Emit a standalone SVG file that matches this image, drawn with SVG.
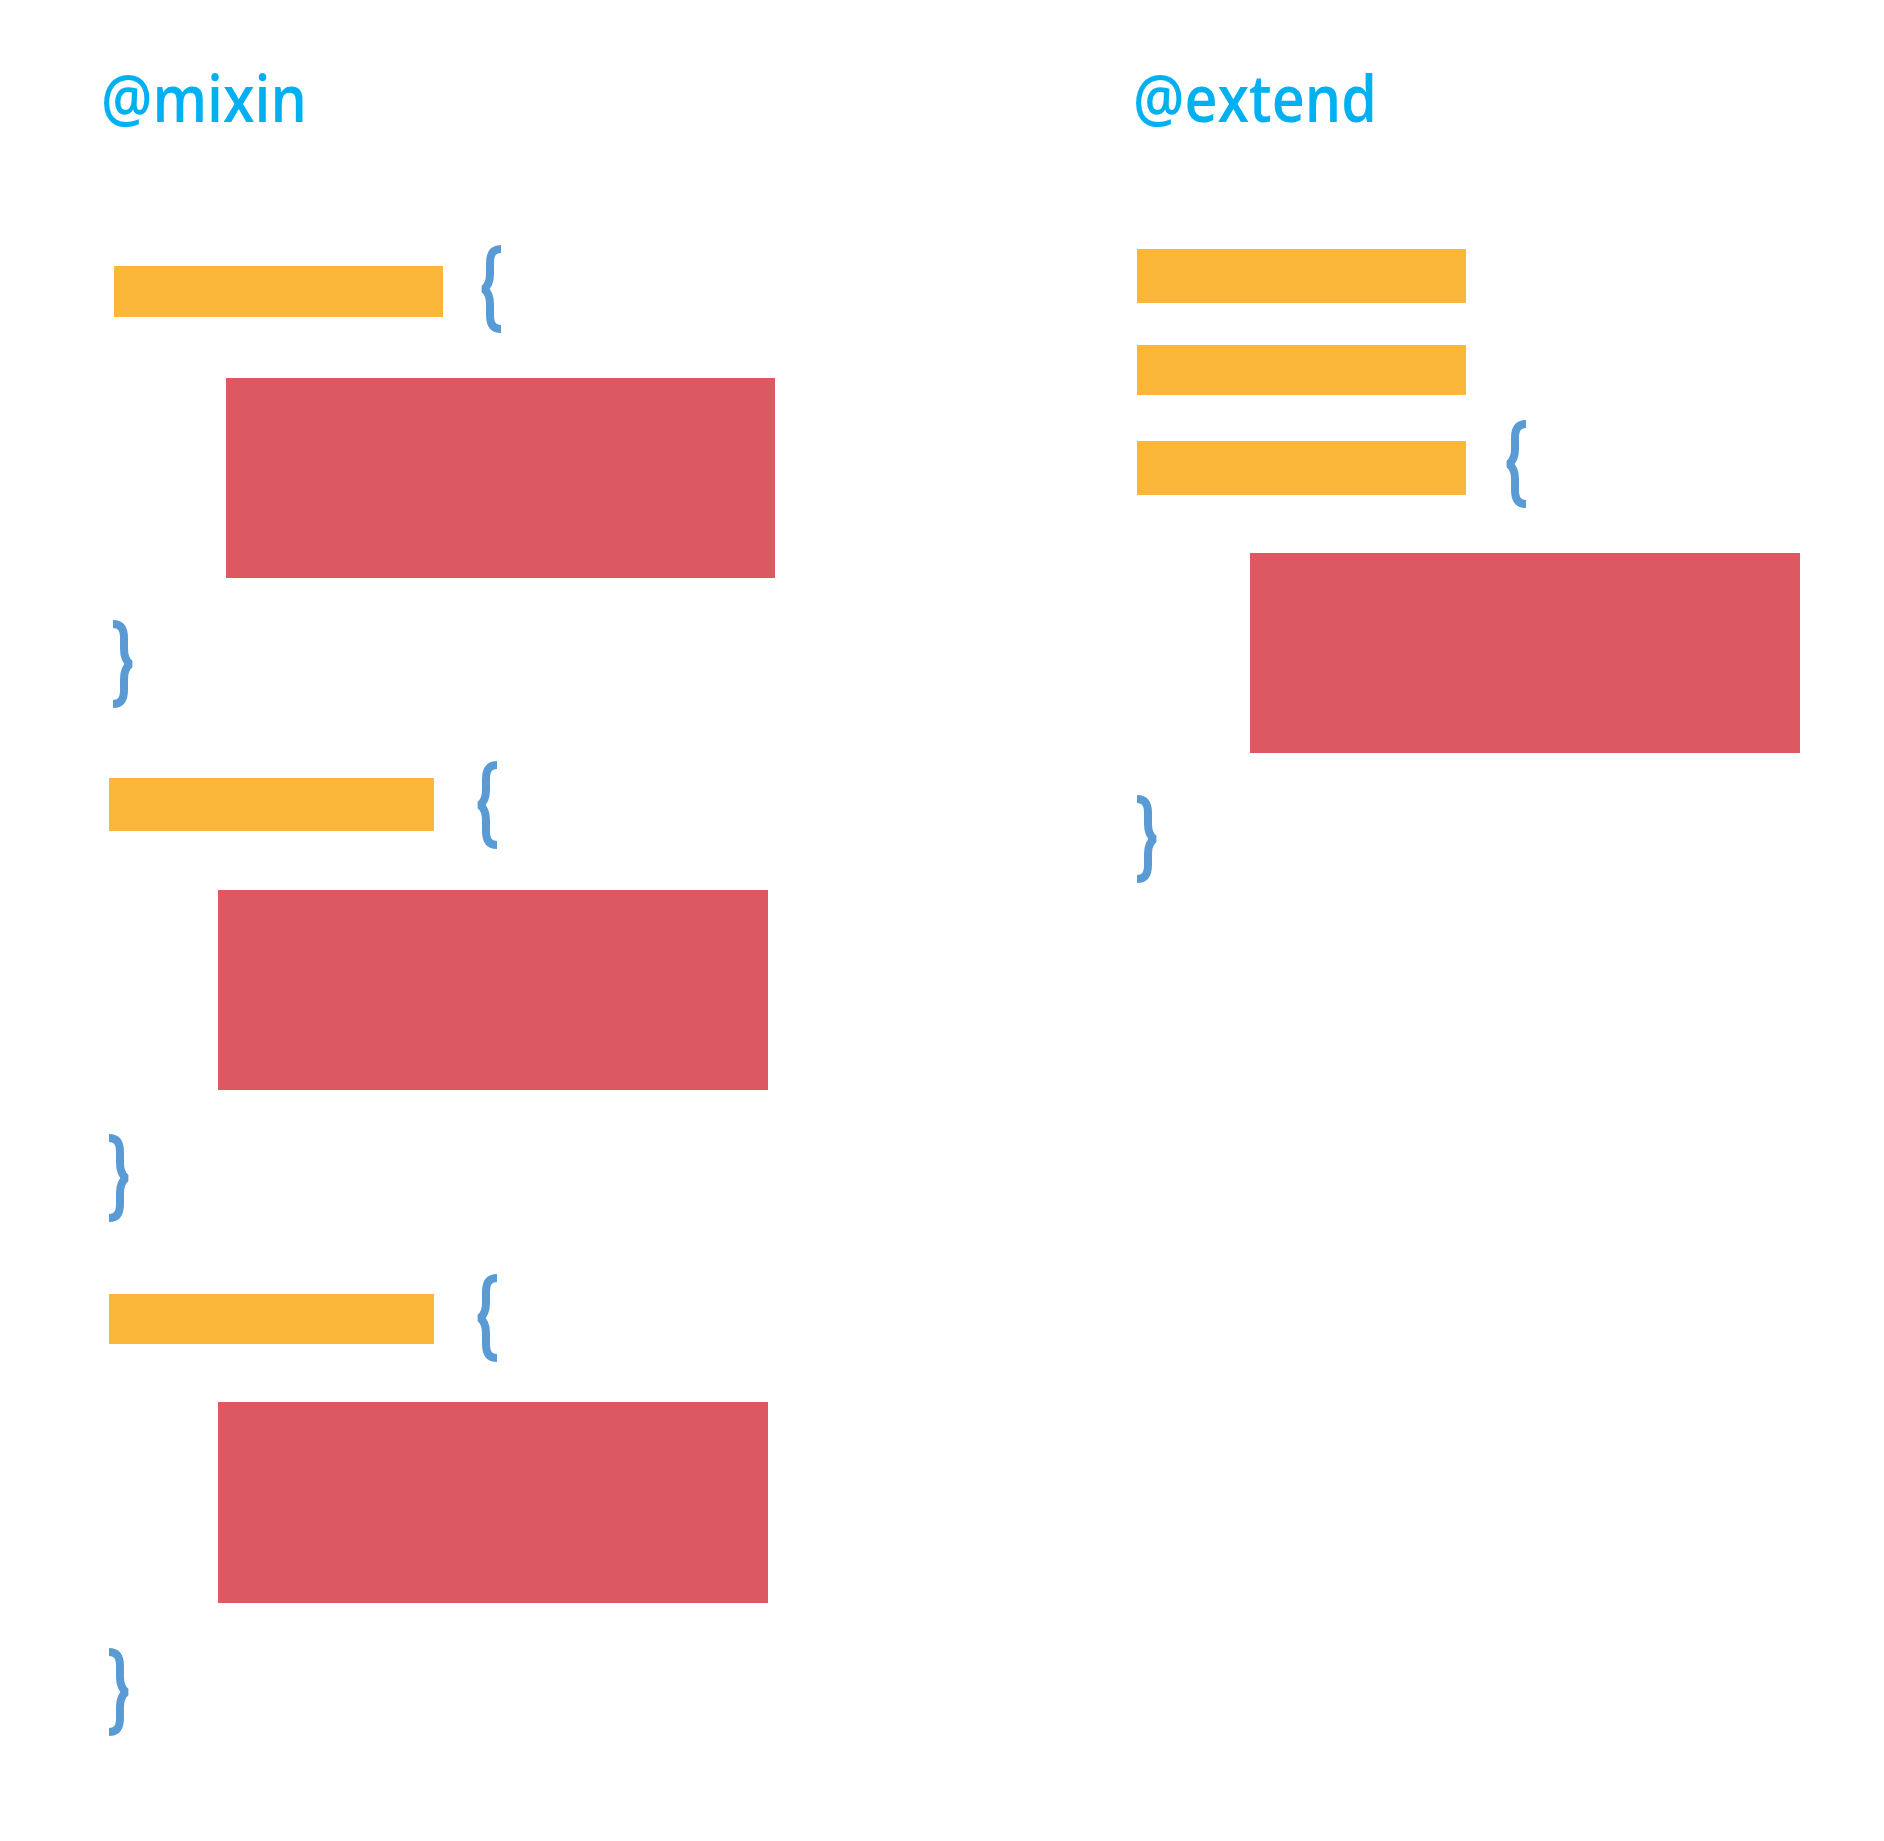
<svg xmlns="http://www.w3.org/2000/svg" xmlns:xlink="http://www.w3.org/1999/xlink" width="1884" height="1841" viewBox="0 0 1884 1841">
  <style>
    .title { font-family: "Open Sans", "Noto Sans", "Liberation Sans", sans-serif; font-size: 66px; font-weight: 600; fill: #00B0F0; }
    .sel { fill: #FBB73A; }
    .body { fill: #DC5961; }
    .brace { fill: none; stroke: #5B9BD5; stroke-width: 8; stroke-linejoin: bevel; stroke-linecap: butt; }
  </style>
  <defs>
    <path id="lb" class="brace" d="M21,4 C14,4 10,8 10,18 L10,29 C10,37 8,41 4,44 C8,47 10,51 10,59 L10,70 C10,80 14,84 21,84"/>
    <path id="rb" class="brace" d="M0,4 C7,4 11,8 11,18 L11,29 C11,37 13,41 17,44 C13,47 11,51 11,59 L11,70 C11,80 7,84 0,84"/>
  </defs>
  <rect width="1884" height="1841" fill="#FFFFFF"/>

  <g id="mixin-title">
    <text class="title" x="101" y="122" textLength="206" lengthAdjust="spacingAndGlyphs">@mixin</text>
  </g>
  <g id="extend-title">
    <text class="title" x="1133" y="122" textLength="244" lengthAdjust="spacingAndGlyphs">@extend</text>
  </g>

  <g id="mixin-rule-1">
    <rect class="sel" x="114" y="266" width="329" height="51"/>
    <use xlink:href="#lb" x="480" y="245"/>
    <rect class="body" x="226" y="378" width="549" height="200"/>
    <use xlink:href="#rb" x="113" y="620"/>
  </g>
  <g id="mixin-rule-2">
    <rect class="sel" x="109" y="778" width="325" height="53"/>
    <use xlink:href="#lb" x="476" y="761"/>
    <rect class="body" x="218" y="890" width="550" height="200"/>
    <use xlink:href="#rb" x="109" y="1134"/>
  </g>
  <g id="mixin-rule-3">
    <rect class="sel" x="109" y="1294" width="325" height="50"/>
    <use xlink:href="#lb" x="476" y="1274"/>
    <rect class="body" x="218" y="1402" width="550" height="201"/>
    <use xlink:href="#rb" x="109" y="1648"/>
  </g>

  <g id="extend-rule">
    <rect class="sel" x="1137" y="249" width="329" height="54"/>
    <rect class="sel" x="1137" y="345" width="329" height="50"/>
    <rect class="sel" x="1137" y="441" width="329" height="54"/>
    <use xlink:href="#lb" x="1505" y="420"/>
    <rect class="body" x="1250" y="553" width="550" height="200"/>
    <use xlink:href="#rb" x="1137" y="795"/>
  </g>
</svg>
